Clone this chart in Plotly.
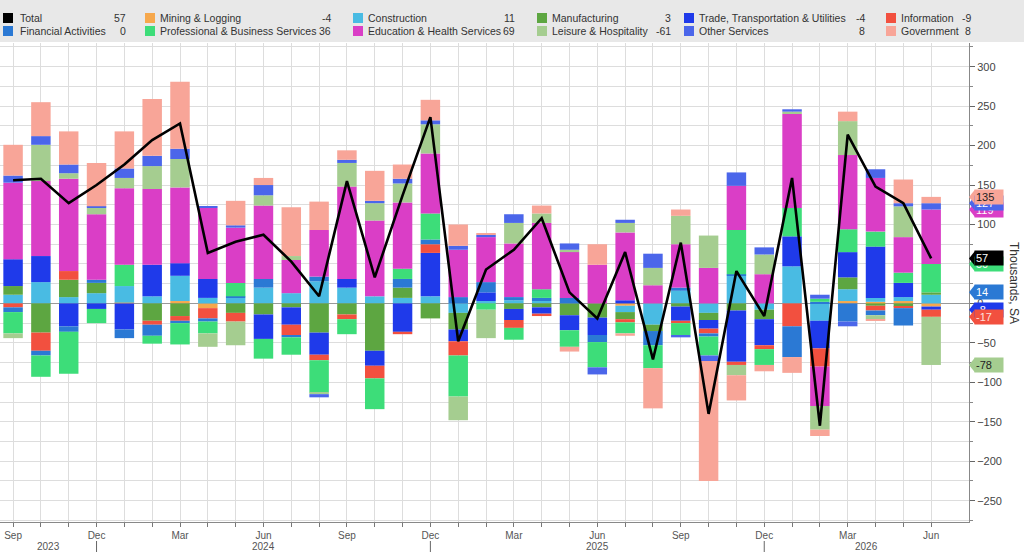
import plotly.graph_objects as go

# DATA (thousands, SA) - Sep 2023 .. Jun 2026
months = ["Sep", "Oct", "Nov", "Dec",
          "Jan", "Feb", "Mar", "Apr", "May", "Jun", "Jul", "Aug", "Sep", "Oct", "Nov", "Dec",
          "Jan", "Feb", "Mar", "Apr", "May", "Jun", "Jul", "Aug", "Sep", "Oct", "Nov", "Dec",
          "Jan", "Feb", "Mar", "Apr", "May", "Jun"]
years = ["2023", "2024", "2025", "2026"]
quarter_months = ["Sep", "Dec", "Mar", "Jun"]

total = [156, 158, 127, 150, 176, 207, 228, 64, 78, 87, 53, 9, 155, 33, 137, 236, -48, 43,
         68, 108, 14, -19, 65, -71, 77, -140, 41, -16, 159, -155, 214, 148, 127, 57]
mining = [0, 0, 0, 0, 1, 0, 3, -6, 0, 0, 0, 0, 0, 0, 0, 0, 0, 0,
          0, 0, 0, 0, -3, 0, 0, 0, 0, 0, 0, 0, 3, 2, 3, -4]
construction = [11, 27, 8, 13, 21, 9, 32, 7, 7, 20, 13, 28, 20, 9, 7, 9, -12, 3,
                4, 3, 0, 0, -8, -27, 16, -12, 35, -8, 47, -22, 15, 5, 5, 11]
manufacturing = [11, -37, 22, 13, 0, -22, -16, 0, -12, -14, -5, -37, -14, -60, 13, -19, -21, 0,
                 -7, -5, -15, -18, -9, -8, -4, -9, -9, -12, 0, 0, 15, -3, -4, 3]
trade = [34, 33, -29, -7, -33, 40, 16, 24, 0, -31, -22, -28, 11, -19, -36, 55, -15, 11,
         -14, -8, -19, -22, 4, 0, -18, -11, -65, -33, 38, -35, 32, 65, 18, -4]
information = [-5, -23, 11, 0, 0, -5, -6, -13, -11, 0, -13, -7, -6, -16, -3, 11, -18, 0,
               -10, -3, 0, 0, -4, 0, -3, -6, -4, -5, -29, -23, 0, -6, -2, -9]
financial = [-6, -6, -7, 4, -11, -14, -3, -4, 2, 11, -3, 6, 0, 0, 11, 6, 8, 13,
             4, 4, 7, -9, 0, -18, 4, -4, 2, 0, -39, 2, -23, -6, -22, 0]
professional = [-27, -27, -53, -18, 27, -10, -27, -15, 17, -25, -22, -41, -19, -39, 13, 33, -52, -8,
                -15, 11, -21, -32, -14, -29, -15, -24, 56, -20, 36, 4, 29, 19, 13, 36]
education = [97, 95, 117, 83, 97, 96, 96, 90, 70, 93, 42, 59, 117, 96, 84, 76, 60, 57,
             68, 84, 58, 49, 86, 23, 55, 45, 56, 37, 119, -50, 94, 68, 45, 69]
leisure = [-6, 46, 7, 8, 13, 29, 36, -17, -30, 13, 5, -2, 30, 22, 24, 37, -30, -36,
           26, 12, 3, 0, 12, 22, 36, 41, -13, 25, 3, -30, 43, -5, 39, -61]
other = [9, 11, 11, 2, 12, 13, 13, 2, 3, 13, 0, -4, 4, 3, 6, 5, 5, 3,
         11, 0, 8, -9, 4, 18, -3, -7, 17, 9, 3, 5, -6, 11, 4, 8]
government = [39, 43, 42, 55, 47, 72, 85, 0, 31, 9, 62, 36, 12, 38, 18, 26, 27, 2,
              0, 10, -6, 26, -3, -51, 8, -152, -32, -8, -20, -8, 12, -2, 30, 8]

# STYLE
colors = {
    "Total": "#000000",
    "Mining & Logging": "#f6a84c",
    "Construction": "#49bbe3",
    "Manufacturing": "#5da641",
    "Trade, Transportation & Utilities": "#1f3aea",
    "Information": "#f2503f",
    "Financial Activities": "#2b79d4",
    "Professional & Business Services": "#3ddd79",
    "Education & Health Services": "#da3ec6",
    "Leisure & Hospitality": "#a5cd90",
    "Other Services": "#4b66ea",
    "Government": "#f8a598",
}

# stacking order (bottom -> top, both sides of zero)
stack = [
    ("Mining & Logging", mining),
    ("Construction", construction),
    ("Manufacturing", manufacturing),
    ("Trade, Transportation & Utilities", trade),
    ("Information", information),
    ("Financial Activities", financial),
    ("Professional & Business Services", professional),
    ("Education & Health Services", education),
    ("Leisure & Hospitality", leisure),
    ("Other Services", other),
    ("Government", government),
]
series = dict(stack)
series["Total"] = total

# legend grid (row-major, as displayed)
legend_rows = [
    ["Total", "Mining & Logging", "Construction", "Manufacturing",
     "Trade, Transportation & Utilities", "Information"],
    ["Financial Activities", "Professional & Business Services", "Education & Health Services",
     "Leisure & Hospitality", "Other Services", "Government"],
]

# pixel helpers (1024x552 page)
PL, PR, PT, PB = 0, 969, 43, 522


def px(x):
    return (x - PL) / (PR - PL)


def py(y):
    return (PB - y) / (PB - PT)


FONT = "Liberation Sans, Arial, sans-serif"
x = list(range(len(months)))

fig = go.Figure()

for name, vals in stack:
    fig.add_trace(go.Bar(
        x=x, y=vals, name=name,
        marker=dict(color=colors[name], line=dict(width=0)),
        showlegend=False,
    ))

fig.add_trace(go.Scatter(
    x=x, y=total, mode="lines", name="Total",
    line=dict(color="#000000", width=2.6),
    showlegend=False,
))

shapes = []
annotations = []

# legend band
shapes.append(dict(type="rect", xref="paper", yref="paper", x0=px(0), x1=px(1024),
                   y0=py(42), y1=py(0), fillcolor="#e8e8e8", line=dict(width=0), layer="below"))

col_sq = [3, 145, 353, 537, 684, 886]
col_txt = [18, 158, 366, 550, 697, 899]
col_val = [128, 333, 517, 673, 867, 973]
row_y = [18, 31]
for r, row in enumerate(legend_rows):
    for c, name in enumerate(row):
        yc = row_y[r]
        shapes.append(dict(type="rect", xref="paper", yref="paper",
                           x0=px(col_sq[c]), x1=px(col_sq[c] + 10),
                           y0=py(yc + 5), y1=py(yc - 5),
                           fillcolor=colors[name], line=dict(width=0)))
        annotations.append(dict(text=name, xref="paper", yref="paper", x=px(col_txt[c]), y=py(yc),
                                xanchor="left", yanchor="middle", showarrow=False,
                                font=dict(family=FONT, size=10.5, color="#333333")))
        annotations.append(dict(text=str(series[name][-1]), xref="paper", yref="paper",
                                x=px(col_val[c]), y=py(yc), xanchor="right", yanchor="middle",
                                showarrow=False, font=dict(family=FONT, size=10.5, color="#333333")))

# month ticks / year labels
tick_text = [m if m in quarter_months else "" for m in months]
dec_idx = [i for i, m in enumerate(months) if m == "Dec"]
bounds = [-0.47] + dec_idx + [34.36]
for k, yr in enumerate(years):
    annotations.append(dict(text=yr, xref="x", yref="paper", x=(bounds[k] + bounds[k + 1]) / 2,
                            y=py(546), xanchor="center", yanchor="middle", showarrow=False,
                            font=dict(family=FONT, size=10, color="#555555")))
for i in dec_idx:
    shapes.append(dict(type="line", xref="x", yref="paper", x0=i, x1=i, y0=py(541), y1=py(552),
                       line=dict(color="#666666", width=1)))

# right-side value tags at the end of each stack segment
ends = {}
p = n = 0
for name, vals in stack:
    v = vals[-1]
    if v >= 0:
        p += v
        ends[name] = p
    else:
        n += v
        ends[name] = n
ends["Total"] = total[-1]

tags = [
    ("Education & Health Services", "#ffffff"),
    ("Other Services", "#ffffff"),
    ("Government", "#222222"),
    ("Professional & Business Services", "#ffffff"),
    ("Total", "#ffffff"),
    ("Financial Activities", "#ffffff"),
    ("Trade, Transportation & Utilities", "#ffffff"),
    ("Information", "#ffe0dc"),
    ("Leisure & Hospitality", "#222222"),
]
half = 7.5 / 0.79
for name, fc in tags:
    yv = ends[name]
    shapes.append(dict(type="path", xref="paper", yref="y",
                       path=f"M {px(969)},{yv} L {px(975)},{yv + half} L {px(975)},{yv - half} Z",
                       fillcolor=colors[name], line=dict(width=0), layer="above"))
    annotations.append(dict(text=str(yv), xref="paper", yref="y", x=px(974), y=yv,
                            xanchor="left", yanchor="middle", showarrow=False, width=26,
                            align="left", bgcolor=colors[name], borderpad=1,
                            font=dict(family=FONT, size=11, color=fc)))

annotations.append(dict(text="Thousands, SA", xref="paper", yref="paper", x=px(1014), y=py(283),
                        textangle=90, showarrow=False, xanchor="center", yanchor="middle",
                        font=dict(family=FONT, size=12, color="#333333")))

fig.update_layout(
    width=1024, height=552,
    margin=dict(l=PL, r=1024 - PR, t=PT, b=552 - PB),
    barmode="relative",
    bargap=0.3,
    plot_bgcolor="#ffffff",
    paper_bgcolor="#ffffff",
    font=dict(family=FONT, size=11, color="#444444"),
    shapes=shapes,
    annotations=annotations,
    xaxis=dict(
        range=[-0.47, 34.36],
        tickmode="array", tickvals=x, ticktext=tick_text,
        ticks="outside", ticklen=4, tickcolor="#777777",
        showgrid=True, gridcolor="#dddddd", gridwidth=1,
        showline=True, linecolor="#888888", linewidth=1,
        tickfont=dict(family=FONT, size=10, color="#555555"),
        zeroline=False, fixedrange=True,
    ),
    yaxis=dict(
        side="right",
        range=[-277, 330],
        tickmode="linear", tick0=0, dtick=50,
        ticks="outside", ticklen=5, tickcolor="#666666",
        minor=dict(dtick=25, tick0=0, ticks="outside", ticklen=3, tickcolor="#888888",
                   showgrid=True, gridcolor="#dddddd"),
        showgrid=True, gridcolor="#dddddd", gridwidth=1,
        showline=True, linecolor="#888888", linewidth=1,
        zeroline=True, zerolinecolor="#999999", zerolinewidth=1,
        tickfont=dict(family=FONT, size=11, color="#444444"),
        fixedrange=True,
    ),
)

# drop the default body margin so the 1024x552 figure fills the window exactly
fig.write_html("out.html", config={"displayModeBar": False},
               post_script="document.body.style.margin='0';")
